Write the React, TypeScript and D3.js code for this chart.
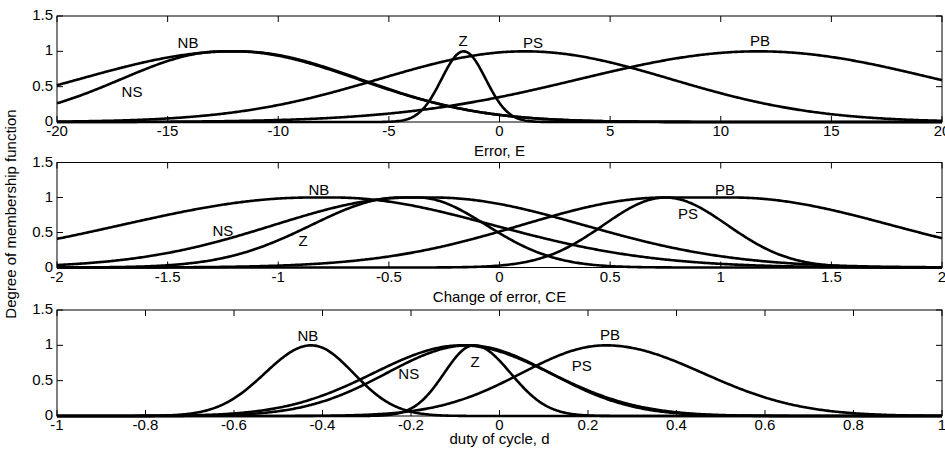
import React from "react";
import * as d3 from "d3";

// Membership function names (same order in every panel)
const mfNames = ["NB", "NS", "Z", "PS", "PB"];

// gauss2mf parameters: [sigmaLeft, centerLeft, sigmaRight, centerRight]
const errorParams = [
  [7.0, -12, 5.6, -12],
  [4.6, -12.5, 5.5, -11.8],
  [1.0, -1.62, 1.0, -1.62],
  [6.6, 1.15, 6.6, 1.15],
  [8.1, 11.7, 8.1, 11.7],
];
const changeParams = [
  [0.86, -0.85, 0.72, -0.75],
  [0.62, -0.4, 0.68, -0.3],
  [0.4, -0.45, 0.31, -0.37],
  [0.28, 0.75, 0.28, 0.75],
  [0.65, 0.75, 0.72, 1.05],
];
const dutyParams = [
  [0.105, -0.425, 0.095, -0.425],
  [0.2, -0.085, 0.2, -0.085],
  [0.067, -0.058, 0.083, -0.058],
  [0.185, -0.07, 0.185, -0.07],
  [0.19, 0.24, 0.22, 0.24],
];

// Label anchor positions in data units [x, membership]
const errorLabelPos = [[-14.08, 1.118], [-16.61, 0.425], [-1.65, 1.146], [1.51, 1.118], [11.77, 1.146]];
const changeLabelPos = [[-0.816, 1.113], [-1.25, 0.518], [-0.888, 0.376], [0.852, 0.759], [1.019, 1.113]];
const dutyLabelPos = [[-0.433, 1.132], [-0.205, 0.594], [-0.055, 0.764], [0.186, 0.708], [0.25, 1.146]];

// Axis ticks
const errorTicks = [-20, -15, -10, -5, 0, 5, 10, 15, 20];
const errorTickLabels = ["-20", "-15", "-10", "-5", "0", "5", "10", "15", "20"];
const changeTicks = [-2, -1.5, -1, -0.5, 0, 0.5, 1, 1.5, 2];
const changeTickLabels = ["-2", "-1.5", "-1", "-0.5", "0", "0.5", "1", "1.5", "2"];
const dutyTicks = [-1, -0.8, -0.6, -0.4, -0.2, 0, 0.2, 0.4, 0.6, 0.8, 1];
const dutyTickLabels = ["-1", "-0.8", "-0.6", "-0.4", "-0.2", "0", "0.2", "0.4", "0.6", "0.8", "1"];
const yTicks = [0, 0.5, 1, 1.5];
const yTickLabels = ["0", "0.5", "1", "1.5"];

const xTitles = ["Error, E", "Change of error, CE", "duty of cycle, d"];
const yTitle = "Degree of membership function";

const W = 945;
const H = 452;
const LEFT = 57;
const RIGHT = 942;
const FONT = "'Liberation Sans', Arial, Helvetica, sans-serif";
const FS = 15;
const TICK = 6;

function gauss2(x: number, p: number[]) {
  const [s1, c1, s2, c2] = p;
  const a = x < c1 ? Math.exp(-((x - c1) ** 2) / (2 * s1 * s1)) : 1;
  const b = x > c2 ? Math.exp(-((x - c2) ** 2) / (2 * s2 * s2)) : 1;
  return a * b;
}

type PanelProps = {
  top: number;
  bottom: number;
  domain: [number, number];
  ticks: number[];
  tickLabels: string[];
  params: number[][];
  labelPos: number[][];
  title: string;
  titleY: number;
};

function Panel({ top, bottom, domain, ticks, tickLabels, params, labelPos, title, titleY }: PanelProps) {
  const x = d3.scaleLinear().domain(domain).range([LEFT, RIGHT]);
  const y = d3.scaleLinear().domain([0, 1.5]).range([bottom, top]);
  const n = 600;
  const xs = d3.range(n + 1).map((i) => domain[0] + ((domain[1] - domain[0]) * i) / n);
  const line = d3
    .line<number>()
    .x((d) => x(d))
    .y((d) => y(d));
  return (
    <g>
      <rect x={LEFT} y={top} width={RIGHT - LEFT} height={bottom - top} fill="white" stroke="black" strokeWidth={1} />
      {ticks.map((t, i) => (
        <g key={"xt" + i}>
          <line x1={x(t)} x2={x(t)} y1={bottom} y2={bottom - TICK} stroke="black" strokeWidth={1} />
          <line x1={x(t)} x2={x(t)} y1={top} y2={top + TICK} stroke="black" strokeWidth={1} />
          <text x={x(t)} y={bottom + 14} textAnchor="middle" fontSize={FS} fontFamily={FONT}>
            {tickLabels[i]}
          </text>
        </g>
      ))}
      {yTicks.map((t, i) => (
        <g key={"yt" + i}>
          <line x1={LEFT} x2={LEFT + TICK} y1={y(t)} y2={y(t)} stroke="black" strokeWidth={1} />
          <line x1={RIGHT} x2={RIGHT - TICK} y1={y(t)} y2={y(t)} stroke="black" strokeWidth={1} />
          <text x={LEFT - 4} y={y(t) + 4} textAnchor="end" fontSize={FS} fontFamily={FONT}>
            {yTickLabels[i]}
          </text>
        </g>
      ))}
      {params.map((p, i) => (
        <path
          key={"c" + i}
          d={line.y((d) => y(gauss2(d, p)))(xs) || ""}
          fill="none"
          stroke="black"
          strokeWidth={2.6}
          strokeLinejoin="round"
        />
      ))}
      {labelPos.map((lp, i) => (
        <text
          key={"l" + i}
          x={x(lp[0])}
          y={y(lp[1]) + 5}
          textAnchor="middle"
          fontSize={FS}
          fontFamily={FONT}
        >
          {mfNames[i]}
        </text>
      ))}
      <text x={(LEFT + RIGHT) / 2} y={titleY} textAnchor="middle" fontSize={FS} fontFamily={FONT}>
        {title}
      </text>
    </g>
  );
}

export default function App() {
  return (
    <svg
      width={W}
      height={H}
      viewBox={`0 0 ${W} ${H}`}
      style={{ position: "fixed", left: 0, top: 0, background: "white" }}
    >
      <rect x={0} y={0} width={W} height={H} fill="white" />
      <Panel
        top={16}
        bottom={122}
        domain={[-20, 20]}
        ticks={errorTicks}
        tickLabels={errorTickLabels}
        params={errorParams}
        labelPos={errorLabelPos}
        title={xTitles[0]}
        titleY={156}
      />
      <Panel
        top={162.5}
        bottom={267.5}
        domain={[-2, 2]}
        ticks={changeTicks}
        tickLabels={changeTickLabels}
        params={changeParams}
        labelPos={changeLabelPos}
        title={xTitles[1]}
        titleY={302}
      />
      <Panel
        top={310}
        bottom={416}
        domain={[-1, 1]}
        ticks={dutyTicks}
        tickLabels={dutyTickLabels}
        params={dutyParams}
        labelPos={dutyLabelPos}
        title={xTitles[2]}
        titleY={444}
      />
      <text
        transform={`translate(16, 214) rotate(-90)`}
        textAnchor="middle"
        fontSize={FS}
        fontFamily={FONT}
      >
        {yTitle}
      </text>
    </svg>
  );
}
